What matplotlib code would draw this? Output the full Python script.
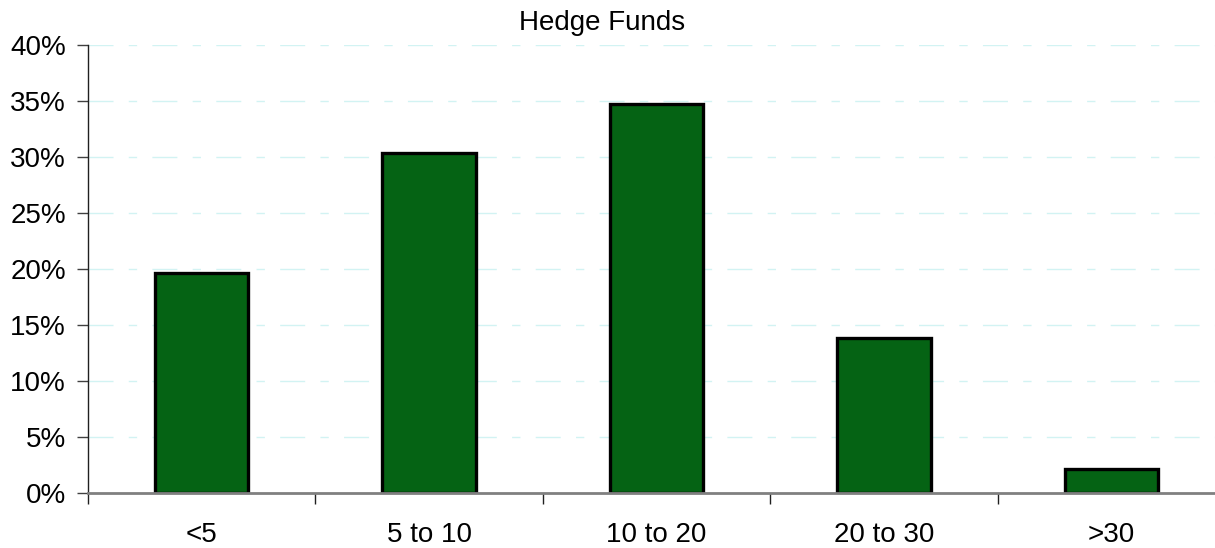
import numpy as np
import matplotlib.pyplot as plt
from matplotlib.ticker import FuncFormatter, FixedLocator, NullFormatter

plt.rcParams['font.family'] = ['Liberation Sans', 'DejaVu Sans']

# Share of hedge funds by bucket
categories = ['<5', '5 to 10', '10 to 20', '20 to 30', '>30']
shares = [19.6, 30.4, 34.7, 13.8, 2.1]
y_ticks = [0, 5, 10, 15, 20, 25, 30, 35, 40]

fig = plt.figure(figsize=(12.15, 5.48), dpi=100)
ax = fig.add_axes([88 / 1215, 55 / 548, 1137 / 1215, 448 / 548])

x = np.arange(len(categories))
ax.bar(x, shares, width=0.41, color='#056314', edgecolor='black', linewidth=2.4, zorder=3)

# light dashed gridlines
for t in y_ticks[1:]:
    ax.axhline(t, color='#d2f3f3', linewidth=1, dashes=(18, 11, 6, 11), zorder=1)

ax.set_xlim(-0.5, len(categories) - 0.5)
ax.set_ylim(0, 40)
ax.set_yticks(y_ticks)
ax.yaxis.set_major_formatter(FuncFormatter(lambda v, p: f'{v:.0f}%'))
ax.tick_params(axis='y', direction='out', length=8, width=1, color='#404040',
               labelsize=20, pad=8)

# category labels centred, tick marks at category boundaries
ax.set_xticks(x)
ax.set_xticklabels(categories)
ax.tick_params(axis='x', which='major', length=0, labelsize=20, pad=21)
ax.xaxis.set_minor_locator(FixedLocator(np.arange(-0.5, len(categories), 1.0)))
ax.xaxis.set_minor_formatter(NullFormatter())
ax.tick_params(axis='x', which='minor', direction='out', length=8, width=1, color='#202020')

ax.spines['top'].set_visible(False)
ax.spines['right'].set_visible(False)
ax.spines['left'].set_color('#202020')
ax.spines['left'].set_linewidth(1)
ax.spines['bottom'].set_color('#808080')
ax.spines['bottom'].set_linewidth(2)
ax.spines['bottom'].set_zorder(4)

fig.text(602 / 1215, 1 - 23 / 548, 'Hedge Funds', ha='center', va='center', fontsize=20)

fig.savefig('out.png', dpi=100)
